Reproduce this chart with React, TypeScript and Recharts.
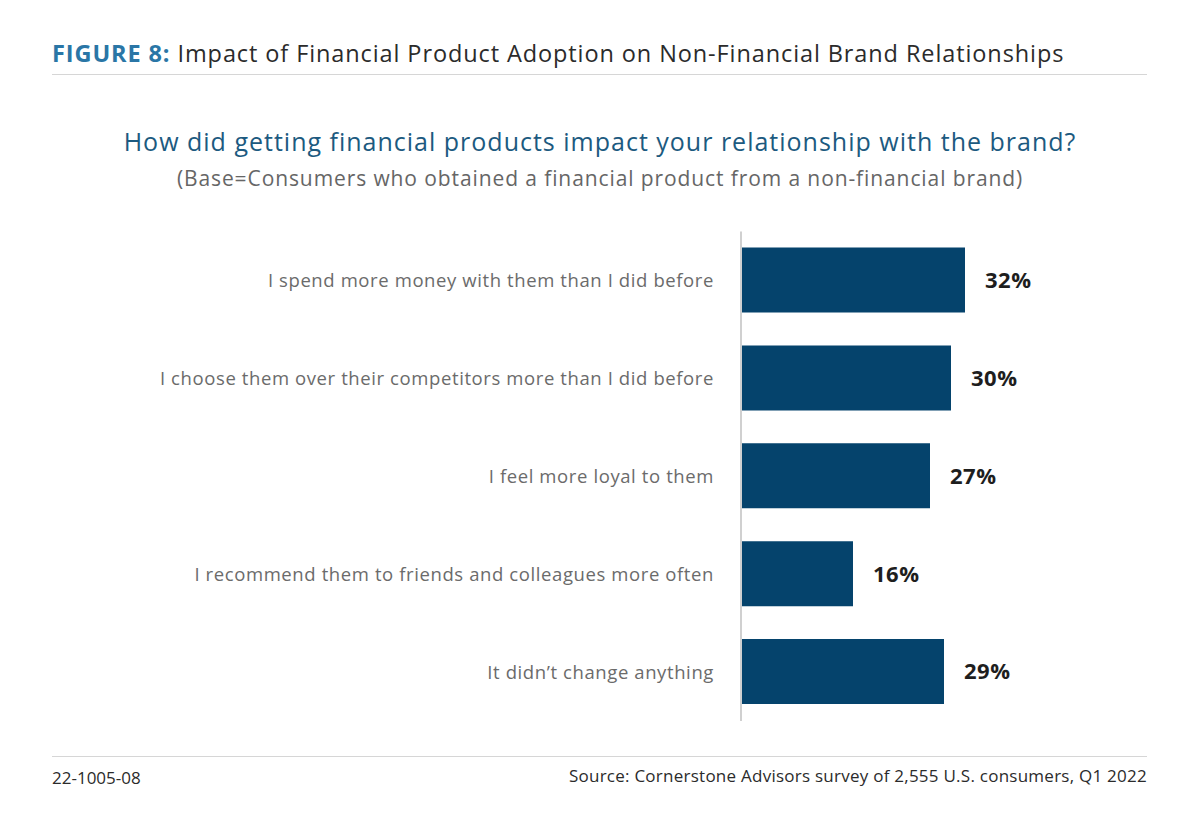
import { BarChart, Bar, XAxis, YAxis, LabelList } from "recharts";

const categories = [
  "I spend more money with them than I did before",
  "I choose them over their competitors more than I did before",
  "I feel more loyal to them",
  "I recommend them to friends and colleagues more often",
  "It didn\u2019t change anything",
];

const shares = [32, 30, 27, 16, 29];

const chartData = categories.map((name, i) => ({ name, value: shares[i] }));

const FONT = "'Open Sans', sans-serif";

const App = () => {
  return (
    <div
      style={{
        position: "absolute",
        left: 0,
        top: 0,
        width: 1200,
        height: 828,
        background: "#fff",
        fontFamily: FONT,
      }}
    >
      <div
        style={{
          position: "absolute",
          left: 52,
          top: 39,
          fontSize: 23.5,
          letterSpacing: 0.9,
          lineHeight: "28px",
          color: "#2b2b2b",
          whiteSpace: "nowrap",
        }}
      >
        <span style={{ color: "#2a76a6", fontWeight: 700 }}>FIGURE 8:</span> Impact of Financial
        Product Adoption on Non-Financial Brand Relationships
      </div>
      <div style={{ position: "absolute", left: 52, top: 74, width: 1095, height: 1, background: "#d6d6d6" }} />

      <div
        style={{
          position: "absolute",
          left: 0,
          width: 1200,
          top: 125,
          textAlign: "center",
          fontSize: 25,
          letterSpacing: 1,
          lineHeight: "32px",
          color: "#1c5a80",
          whiteSpace: "nowrap",
        }}
      >
        How did getting financial products impact your relationship with the brand?
      </div>
      <div
        style={{
          position: "absolute",
          left: 0,
          width: 1200,
          top: 164,
          textAlign: "center",
          fontSize: 21,
          letterSpacing: 0.9,
          lineHeight: "28px",
          color: "#666",
          whiteSpace: "nowrap",
        }}
      >
        (Base=Consumers who obtained a financial product from a non-financial brand)
      </div>

      <div style={{ position: "absolute", left: 0, top: 0 }}>
        <BarChart
          width={1200}
          height={828}
          data={chartData}
          layout="vertical"
          margin={{ top: 231.5, bottom: 107, left: 0, right: 109 }}
          barSize={65}
        >
          <XAxis type="number" domain={[0, 50]} hide />
          <YAxis
            type="category"
            dataKey="name"
            width={741}
            tickLine={false}
            tickSize={0}
            tickMargin={27}
            axisLine={{ stroke: "#d0d0d0", strokeWidth: 2 }}
            tick={{ fill: "#6b6b6b", fontSize: 18.5, fontFamily: FONT, letterSpacing: 0.6 } as any}
            interval={0}
          />
          <Bar dataKey="value" fill="#05436c" isAnimationActive={false}>
            <LabelList
              dataKey="value"
              position="right"
              offset={20}
              formatter={(v: any) => `${v}%`}
              style={{ fill: "#1e1e1e", fontSize: 22, fontWeight: 700, fontFamily: FONT, letterSpacing: 0.5 }}
            />
          </Bar>
        </BarChart>
      </div>

      <div style={{ position: "absolute", left: 52, top: 756, width: 1095, height: 1, background: "#d6d6d6" }} />
      <div
        style={{
          position: "absolute",
          left: 52,
          top: 766,
          fontSize: 17,
          lineHeight: "24px",
          color: "#2b2b2b",
        }}
      >
        22-1005-08
      </div>
      <div
        style={{
          position: "absolute",
          right: 53,
          top: 764,
          fontSize: 17,
          letterSpacing: 0.25,
          lineHeight: "24px",
          color: "#2b2b2b",
          whiteSpace: "nowrap",
        }}
      >
        Source: Cornerstone Advisors survey of 2,555 U.S. consumers, Q1 2022
      </div>
    </div>
  );
};

export default App;
